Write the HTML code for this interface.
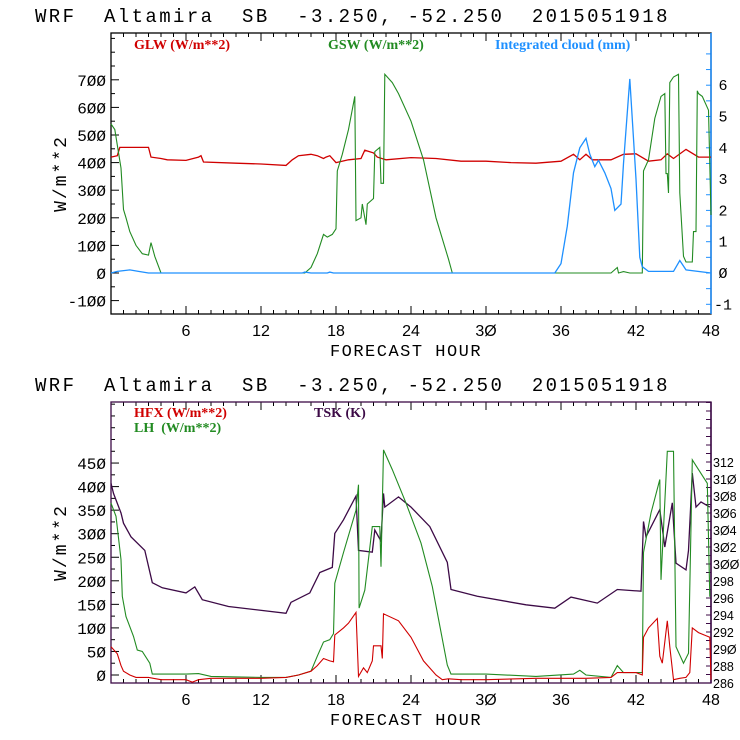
<!DOCTYPE html>
<html><head><meta charset="utf-8"><style>
html,body{margin:0;padding:0;background:#fff;width:740px;height:740px;overflow:hidden}
</style></head><body>
<svg id="c" width="740" height="740" viewBox="0 0 740 740" font-family="Liberation Sans, sans-serif"></svg>
<script>
const ticksX=[6,12,18,24,30,36,42,48];
// top panel
const glwH=[0,0.5,0.7,3,3.2,4,4.5,6,7,7.2,7.4,10,12,14,14.5,15,16,16.5,17,17.2,17.5,18,19,20,20.3,21,21.3,22,24,26,28,30,32,34,36,37,37.5,38,38.5,40,41,42,43,44,44.5,45,46,47,48];
const glwV=[420,425,455,455,420,415,410,408,420,425,402,398,395,390,410,425,430,425,415,420,425,400,410,415,445,435,420,410,418,415,405,405,400,398,405,430,410,430,410,410,430,432,405,410,432,415,448,420,420];
const gswH=[0,0.3,0.8,1,1.2,1.5,2,2.5,3,3.2,3.5,4,15.5,16,16.5,17,17.3,17.7,18,18.1,18.5,19,19.5,19.6,20,20.1,20.4,20.5,21,21.1,21.5,21.6,21.8,21.9,22.5,23,24,25,26,27,27.3,40,40.5,40.6,41,41.5,42.5,42.6,43,43.5,44,44.3,44.4,44.5,44.6,44.7,45,45.4,45.5,45.8,46,46.5,46.6,46.8,46.9,47,47.3,47.8,48];
const gswV=[540,520,380,230,200,150,100,70,65,110,60,0,0,20,70,140,130,140,160,370,430,520,640,190,200,250,175,250,270,440,455,325,325,720,690,650,550,410,200,50,0,0,20,0,5,0,0,370,410,560,640,650,360,360,290,690,710,720,290,60,40,40,150,150,660,650,640,590,210];
const cldH=[0,0.5,1.5,2.2,3,15.3,15.5,16,17.3,17.5,17.8,35.5,36,36.5,37,37.5,38,38.3,38.7,39,39.5,40,40.3,40.8,41,41.5,42,42.3,42.5,43,45,45.5,46,48];
const cldV=[0,0.05,0.1,0.05,0,0,0.03,0,0,0.03,0,0,0.3,1.5,3.2,4.0,4.3,3.8,3.4,3.6,3.2,2.7,2.0,2.2,3.5,6.2,3.0,0.5,0.2,0.05,0.05,0.4,0.1,0];
const topLeftTicks=[-100,0,100,200,300,400,500,600,700];
const topRightTicks=[-1,0,1,2,3,4,5,6];
// bottom panel
const tskH=[0,0.2,0.8,1,1.6,2.7,3.3,4.1,6,6.7,7.3,9.4,14,14.4,15.9,16.7,17.7,17.9,18.6,19.6,19.8,20.9,21.1,21.6,21.8,21.9,23,24,25.5,26.9,27.2,29.3,33.2,35.5,36.8,38.9,40.5,42.4,42.6,42.8,43.9,44.3,44.9,45.2,46,46.2,46.5,46.8,47.2,47.9];
const tskV=[309.5,308.3,306,304.8,303.2,301.6,297.8,297.2,296.6,297.3,295.8,295,294.2,295.5,296.6,299,299.6,303.6,305.2,308,301.6,301.4,304,302.7,308.3,306.7,307.9,306.7,304.4,300.2,297,296.2,295.2,294.8,296.1,295.4,297,296.8,305,303.2,306.4,302,307.2,300.1,299.3,301.6,310.7,306.7,307.3,306.7];
const lhH=[0,0.4,0.8,0.9,1.2,1.8,2.1,2.5,3.1,3.3,6,7,8,12,14,15,16,16.5,17,17.5,17.8,17.9,18.6,19.6,19.8,19.85,20.3,20.9,21.5,21.6,21.8,22.5,23.6,24.8,25.7,26.9,27.2,30,34,37,37.5,38,40,40.5,41,42,42.5,42.6,43.2,43.9,44,44.5,45,45.2,45.8,46.2,46.5,47,47.7,47.9];
const lhV=[365,337,245,167,124,82,53,50,25,2,2,3,-3,-5,-5,0,8,40,70,75,88,195,260,350,404,142,180,315,315,230,478,436,365,280,188,21,2,2,-3,2,10,0,-5,20,5,5,5,260,344,415,202,475,475,60,25,46,457,436,407,166];
const hfxH=[0,0.5,0.8,1,1.5,2,3,4,6,6.5,7,8,12,14,15,16,16.5,17,17.5,17.8,17.9,18.6,19,19.6,19.8,20.2,20.5,20.9,21,21.6,21.7,21.8,23,24,25,26,26.5,27,28,30,34,38,40,40.5,42,42.5,42.6,43,43.7,43.9,44.1,44.5,44.7,45,45.5,46,46.3,46.5,47,47.9,48];
const hfxV=[60,45,20,8,0,-5,-5,-10,-10,-15,-10,-7,-7,-5,0,8,20,35,30,28,85,100,110,133,-3,15,5,30,62,62,35,130,115,80,30,0,-10,-8,-10,-10,-7,-7,-5,5,5,0,80,100,120,40,25,115,60,-10,-7,-5,5,100,90,80,-10];
const botLeftTicks=[0,50,100,150,200,250,300,350,400,450];
const botRightTicks=[286,288,290,292,294,296,298,300,302,304,306,308,310,312];

const NS='http://www.w3.org/2000/svg';
const svg=document.getElementById('c');
function el(t,a,p){const e=document.createElementNS(NS,t);for(const k in a)e.setAttribute(k,a[k]);(p||svg).appendChild(e);return e;}
const X0=111,X1=711;
const xs=h=>X0+h*(X1-X0)/48;
function line(H,V,ys,col,name,w){
  let d='';H.forEach((h,i)=>{d+=(i?'L':'M')+xs(h).toFixed(1)+' '+ys(V[i]).toFixed(1);});
  const p=el('path',{d:d,fill:'none',stroke:col,'stroke-width':w||1.3});
  
  
}
function txt(x,y,s,attrs,name){const t=el('text',Object.assign({x:x,y:y},attrs));t.textContent=s;
  
  return t;}
const MONO='Liberation Mono, monospace';
function panel(top,bot,borderCol,rightCol,yl,yr,lt,rt,lminor,rminor,lmin,lmax,rmin,rmax,pref){
  const tt=txt(35,top-11,'WRF  Altamira  SB  -3.250, -52.250  2015051918',{'font-family':MONO,'font-size':19,'letter-spacing':'2.4',fill:'#000'},pref+'-title');
  tt.style.whiteSpace='pre';
  for(let h=0;h<=48;h++){const L=(h%6==0)?8:4;
    el('line',{x1:xs(h),x2:xs(h),y1:bot,y2:bot-L,stroke:'#000'});el('line',{x1:xs(h),x2:xs(h),y1:top,y2:top+L,stroke:'#000'});}
  ticksX.forEach(h=>txt(xs(h),bot+22,String(h).replace(/0/g,'Ø'),{'text-anchor':'middle','font-size':16,fill:'#000'},pref+'-x-tick-label'));
  txt(406,bot+42,'FORECAST HOUR',{'text-anchor':'middle','font-family':MONO,'font-size':17,'letter-spacing':'1.5',fill:'#000'},pref+'-x-axis-title');
  txt(0,0,'W/m**2',{transform:'translate(66,'+((top+bot)/2)+') rotate(-90)','text-anchor':'middle','font-family':MONO,'font-size':18,'letter-spacing':'2',fill:'#000'},pref+'-y-axis-title');
  for(let v=lmin;v<=lmax;v+=lminor){const y=yl(v);if(y<top||y>bot)continue;const major=lt.includes(v);
    el('line',{x1:X0,x2:X0+(major?8:4),y1:y,y2:y,stroke:'#000'});}
  lt.forEach(v=>txt(106,yl(v)+6,String(v).replace(/0/g,'Ø'),{'text-anchor':'end','font-family':MONO,'font-size':16,fill:'#000'},pref+'-left-tick-label'));
  for(let v=rmin;v<=rmax+1e-6;v+=rminor){const y=yr(v);if(y<top-0.5||y>bot+0.5)continue;
    el('line',{x1:X1,x2:X1-5,y1:y,y2:y,stroke:rightCol});}
  rt.forEach(v=>txt(pref=='top'?723:713,yr(v)+5,String(v).replace(/0/g,'Ø'),{'text-anchor':pref=='top'?'middle':'start','font-family':pref=='top'?MONO:'Liberation Sans, sans-serif','font-size':pref=='top'?15:12.5,fill:'#000'},pref+'-right-tick-label'));
  const b=el('rect',{x:X0,y:top,width:X1-X0,height:bot-top,fill:'none',stroke:borderCol,'stroke-width':1.3});
  
  
  el('line',{x1:X1,x2:X1,y1:top,y2:bot,stroke:rightCol,'stroke-width':1.5});
}
const tyl=v=>273-v*0.276, tyr=v=>273-v*31.3;
panel(33,314,'#000','#1e90ff',tyl,tyr,topLeftTicks,topRightTicks,50,0.5,-150,850,-1.5,7,'top');
line(glwH,glwV,tyl,'#d00000','glw-line');
line(gswH,gswV,tyl,'#228b22','gsw-line',1.1);
line(cldH,cldV,tyr,'#1e90ff','cloud-line');
const ser={'font-family':'Liberation Serif, serif','font-size':14,'font-weight':'bold'};
txt(134,49,'GLW (W/m**2)',Object.assign({fill:'#d00000'},ser),'legend-glw');
txt(328,49,'GSW (W/m**2)',Object.assign({fill:'#228b22'},ser),'legend-gsw');
txt(495,49,'Integrated cloud (mm)',Object.assign({fill:'#1e90ff'},ser),'legend-cloud');
const byl=v=>675-v*0.471, byr=v=>683-(v-286)*8.5;
panel(402,683,'#3c0a46','#3c0a46',byl,byr,botLeftTicks,botRightTicks,25,1,-25,600,286,319,'bottom');
line(tskH,tskV,byr,'#3c0a46','tsk-line');
line(lhH,lhV,byl,'#228b22','lh-line',1.1);
line(hfxH,hfxV,byl,'#d00000','hfx-line',1.1);
txt(134,417,'HFX (W/m**2)',Object.assign({fill:'#d00000'},ser),'legend-hfx');
txt(134,432,'LH  (W/m**2)',Object.assign({fill:'#228b22'},ser),'legend-lh').style.whiteSpace='pre';
txt(314,417,'TSK (K)',Object.assign({fill:'#3c0a46'},ser),'legend-tsk');
</script>
</body></html>
